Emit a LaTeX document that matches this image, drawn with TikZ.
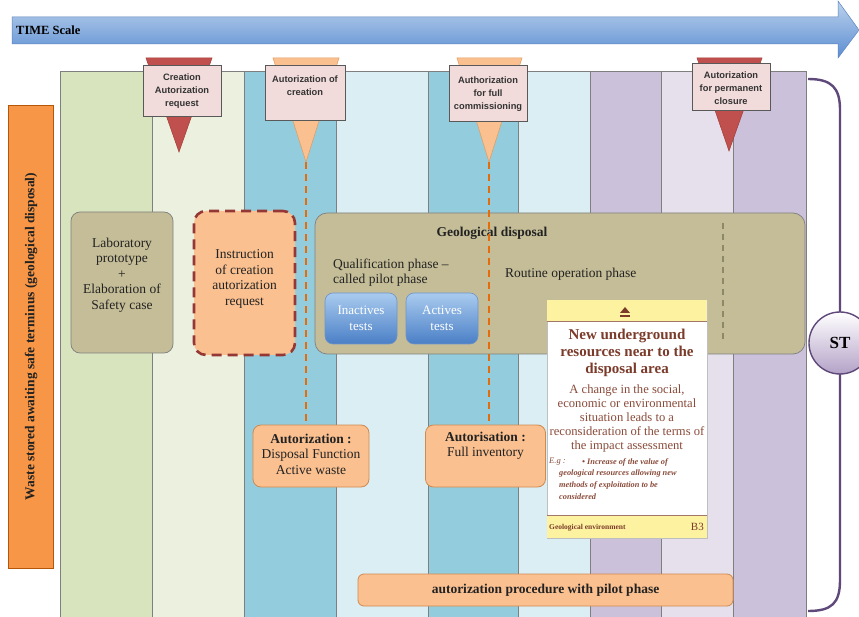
\documentclass[tikz,border=0pt]{standalone}
\usepackage{fontspec}
\setmainfont{Liberation Serif}
\newfontfamily\arialf{Liberation Sans}
\usetikzlibrary{calc}
\definecolor{cA}{HTML}{D7E4BD}
\definecolor{cB}{HTML}{EBF1DE}
\definecolor{cC}{HTML}{93CDDD}
\definecolor{cD}{HTML}{DAEEF3}
\definecolor{cE}{HTML}{CCC1DA}
\definecolor{cF}{HTML}{E5E0EC}
\definecolor{colline}{HTML}{7F7F7F}
\definecolor{tanbox}{HTML}{C4BD97}
\definecolor{peach}{HTML}{FAC090}
\definecolor{peachline}{HTML}{D08A50}
\definecolor{redmark}{HTML}{C0504D}
\definecolor{redmarkline}{HTML}{A33B38}
\definecolor{orangemarkline}{HTML}{E09A5A}
\definecolor{pinkbox}{HTML}{F2DCDB}
\definecolor{dashorange}{HTML}{E46C0A}
\definecolor{darkred}{HTML}{953735}
\definecolor{orangebar}{HTML}{F79646}
\definecolor{orangebarline}{HTML}{B65708}
\definecolor{purpleline}{HTML}{5F497A}
\definecolor{lav}{HTML}{B3A2C7}
\definecolor{cardtext}{HTML}{7B3B2A}
\definecolor{cardbody}{HTML}{8A4B3A}
\definecolor{cardyellow}{HTML}{FDF2A0}
\definecolor{txt}{HTML}{222222}
\definecolor{arrowtop}{HTML}{BCD2EC}
\definecolor{arrowbot}{HTML}{5B8DD2}
\definecolor{arrowline}{HTML}{5B85BF}
\definecolor{testtop}{HTML}{A9CBEF}
\definecolor{testbot}{HTML}{4A7FC6}
\definecolor{testline}{HTML}{6F93C6}
\definecolor{graydash}{HTML}{8C8868}
\begin{document}
\begin{tikzpicture}[x=1pt,y=-1pt,
  colbox/.style={draw=colline, line width=0.7pt},
  markbox/.style={draw=black!65, fill=pinkbox, line width=0.6pt, inner sep=0pt},
  marktext/.style={font=\arialf\bfseries\fontsize{9.3}{13}\selectfont, text=black!80, align=center, inner sep=0pt},
  serif/.style={font=\fontsize{13.5}{15.5}\selectfont, text=txt, align=center, inner sep=0pt},
  tanrounded/.style={draw=colline, fill=tanbox, rounded corners=9pt, line width=0.7pt, inner sep=0pt},
  authbox/.style={draw=peachline, fill=peach, rounded corners=8pt, line width=0.8pt, inner sep=0pt},
  testbox/.style={draw=testline, top color=testtop, bottom color=testbot, rounded corners=8pt, line width=0.6pt, inner sep=0pt, text=white, font=\fontsize{13}{15.5}\selectfont, align=center},
  dashl/.style={dashorange, line width=2.2pt, dash pattern=on 7pt off 5pt},
  bracket/.style={purpleline, line width=2.4pt}
]
\useasboundingbox (0,0) rectangle (859,617);
\fill[white] (0,0) rectangle (859,617);

% time arrow
\shadedraw[top color=arrowtop, bottom color=arrowbot, draw=arrowline, line width=0.5pt]
  (12,17) -- (838,17) -- (838,1) -- (859,30) -- (838,58) -- (838,44) -- (12,44) -- cycle;
\node[anchor=west, font=\bfseries\fontsize{12.5}{14}\selectfont, inner sep=0pt] (time) at (16,30) {TIME Scale};

% columns
\foreach \xa/\xb/\c in {60/152/cA, 152/244/cB, 244/336/cC, 336/428/cD, 428/518/cC, 518/590/cD, 590/661/cE, 661/733/cF, 733/806/cE}
  \filldraw[colbox, fill=\c] (\xa,71) rectangle (\xb,618);

% bracket and ST
\draw[bracket] (808,79) .. controls (832,79) and (840,88) .. (840,110) -- (840,580) .. controls (840,603) and (832,611) .. (808,611);
\node[circle, minimum size=62pt, inner sep=0pt, draw=purpleline, line width=1.4pt, top color=white, bottom color=lav, font=\bfseries\fontsize{17}{19}\selectfont] (ST) at (840,343) {ST};

% left bar
\node[rotate=90, minimum width=463pt, minimum height=45pt, inner sep=0pt, draw=orangebarline, fill=orangebar, line width=0.7pt, font=\bfseries\fontsize{13.5}{15}\selectfont, text=txt] (bar) at (31,336.5) {Waste stored awaiting safe terminus (geological disposal)};

% markers
\coordinate (m1tip) at (179,152);
\coordinate (m2tip) at (306,162);
\coordinate (m3tip) at (489,162);
\coordinate (m4tip) at (729,151);
\filldraw[fill=redmark, draw=redmarkline, line width=0.5pt] (146,58) -- (212,58) -- (m1tip) -- cycle;
\filldraw[fill=peach, draw=orangemarkline, line width=0.5pt] (273,58) -- (339,58) -- (m2tip) -- cycle;
\filldraw[fill=peach, draw=orangemarkline, line width=0.5pt] (457,58) -- (522,58) -- (m3tip) -- cycle;
\filldraw[fill=redmark, draw=redmarkline, line width=0.5pt] (697,58) -- (762,58) -- (m4tip) -- cycle;
\node[markbox, minimum width=78pt, minimum height=51pt] (m1) at (182,90.5) {};
\node[markbox, minimum width=80pt, minimum height=55pt] (m2) at (305,92.5) {};
\node[markbox, minimum width=78pt, minimum height=56pt] (m3) at (488,93) {};
\node[markbox, minimum width=78pt, minimum height=47pt] (m4) at (731,86.5) {};
\node[marktext] (m1t) at (182,91) {Creation\\Autorization\\request};
\node[marktext] (m2t) at (305,86) {Autorization of\\creation};
\node[marktext] (m3t) at (488,94) {Authorization\\for full\\commissioning};
\node[marktext] (m4t) at (731,88) {Autorization\\for permanent\\closure};

% laboratory and instruction boxes
\node[tanrounded, minimum width=102pt, minimum height=141pt] (lab) at (122,282.5) {};
\node[serif] (labt) at (122,275) {Laboratory\\prototype\\+\\Elaboration of\\Safety case};
\node[draw=darkred, fill=peach, line width=2.6pt, dash pattern=on 10pt off 6pt, rounded corners=12pt, minimum width=101pt, minimum height=144pt, inner sep=0pt] (instr) at (244.5,283) {};
\node[serif] (instrt) at (244.5,279) {Instruction\\of creation\\autorization\\request};

% geological disposal
\node[tanrounded, rounded corners=12pt, minimum width=490pt, minimum height=141pt] (geo) at (560,283.5) {};
\node[serif, font=\bfseries\fontsize{13.5}{15.5}\selectfont] (geot) at (492,233) {Geological disposal};
\node[serif, align=left, anchor=west] (qual) at (333,272.5) {Qualification phase --\\called pilot phase};
\node[serif, anchor=west] (routine) at (505,274) {Routine operation phase};
\node[testbox, minimum width=72pt, minimum height=51pt] (inact) at (361,318.5) {Inactives\\tests};
\node[testbox, minimum width=72pt, minimum height=51pt] (act) at (442,318.5) {Actives\\tests};
\coordinate (gdtop) at (723,223);
\coordinate (gdbot) at (723,343);
\draw[graydash, line width=2pt, dash pattern=on 6pt off 5pt] (gdtop) -- (gdbot);

% authorization boxes
\node[authbox, minimum width=116pt, minimum height=62pt] (a1) at (311,456) {};
\node[serif] (a1t) at (311,454) {\textbf{Autorization :}\\Disposal Function\\Active waste};
\node[authbox, minimum width=120pt, minimum height=62pt] (a2) at (485.5,456) {};
\node[serif] (a2t) at (485.5,446) {\textbf{Autorisation :}\\Full inventory};

% dashed connectors
\draw[dashl] (m2tip) -- (m2tip |- a1.north);
\draw[dashl] (m3tip) -- (m3tip |- a2.north);

% card
\node[draw=black!25, fill=white, minimum width=160pt, minimum height=238pt, inner sep=0pt] (card) at (627,419) {};
\fill[cardyellow] (card.north west) rectangle ($(card.north east)+(0,22)$);
\draw[cardtext!70, line width=0.8pt] ($(card.north west)+(0,22)$) -- ($(card.north east)+(0,22)$);
\fill[cardyellow] ($(card.south west)+(0,-23)$) rectangle (card.south east);
\draw[cardtext!70, line width=0.8pt] ($(card.south west)+(0,-23)$) -- ($(card.south east)+(0,-23)$);
\fill[cardtext] (620,313) -- (630,313) -- (625,307) -- cycle;
\fill[cardtext] (620,315) rectangle (630,317.5);
\node[font=\bfseries\fontsize{15}{17}\selectfont, text=cardtext, align=center, inner sep=0pt] (cardtitle) at (627,353) {New underground\\resources near to the\\disposal area};
\node[font=\fontsize{12.6}{13.9}\selectfont, text=cardbody, align=center, inner sep=0pt] (cardbodyt) at (627,418.5) {A change in the social,\\economic or environmental\\situation leads to a\\reconsideration of the terms of\\the impact assessment};
\node[font=\itshape\fontsize{8.5}{10}\selectfont, text=cardbody, anchor=west, inner sep=0pt] (eg) at (549,462) {E.g :};
\node[font=\bfseries\itshape\fontsize{8.3}{12}\selectfont, text=cardbody, anchor=west, inner sep=0pt] (bul) at (582,462) {• Increase of the value of};
\node[font=\bfseries\itshape\fontsize{8.3}{12}\selectfont, text=cardbody, anchor=north west, align=left, inner sep=0pt] (bulrest) at (559,470) {geological resources allowing new\\methods of exploitation to be\\considered};
\node[font=\bfseries\fontsize{7.5}{9}\selectfont, text=cardtext, anchor=west, inner sep=0pt] (genv) at (549,528) {Geological environment};
\node[font=\fontsize{11}{12}\selectfont, text=cardtext, anchor=east, inner sep=0pt] (b3) at (704,527) {B3};

% bottom box
\node[authbox, rounded corners=6pt, minimum width=375pt, minimum height=32pt, font=\bfseries\fontsize{13.5}{15.5}\selectfont, text=txt] (proc) at (545.5,590) {autorization procedure with pilot phase};
\end{tikzpicture}
\end{document}
